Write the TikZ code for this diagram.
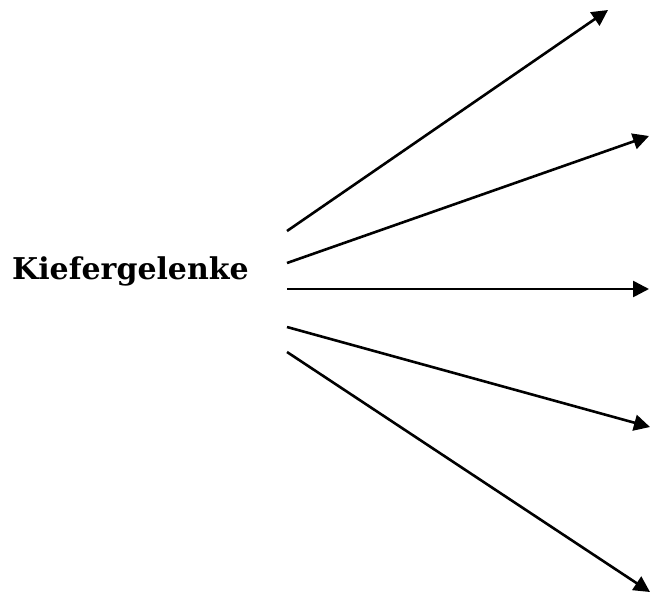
\documentclass[tikz,border=0pt]{standalone}
\usepackage{fontspec}
\newfontfamily\labelfont{DejaVu Serif}
\usetikzlibrary{arrows.meta}
\tikzset{
  ray/.style={line width=2.6pt, -{Triangle[length=16pt,width=16pt]}},
  label/.style={font=\labelfont\bfseries\fontsize{30}{34}\selectfont, inner sep=0pt, anchor=base west}
}
\begin{document}
\begin{tikzpicture}[x=1pt,y=-1pt]
\useasboundingbox (0,0) rectangle (652,597);
\node[label] (kg) at (12,279) {Kiefergelenke};
% ray origins
\coordinate (s1) at (287,231);
\coordinate (s2) at (287,263);
\coordinate (s3) at (287,289);
\coordinate (s4) at (287,327);
\coordinate (s5) at (287,352);
% ray ends
\coordinate (e1) at (608,10);
\coordinate (e2) at (649,136);
\coordinate (e3) at (649,289);
\coordinate (e4) at (650,427);
\coordinate (e5) at (650,592);
\foreach \i in {1,...,5} \draw[ray] (s\i) -- (e\i);
\end{tikzpicture}
\end{document}
